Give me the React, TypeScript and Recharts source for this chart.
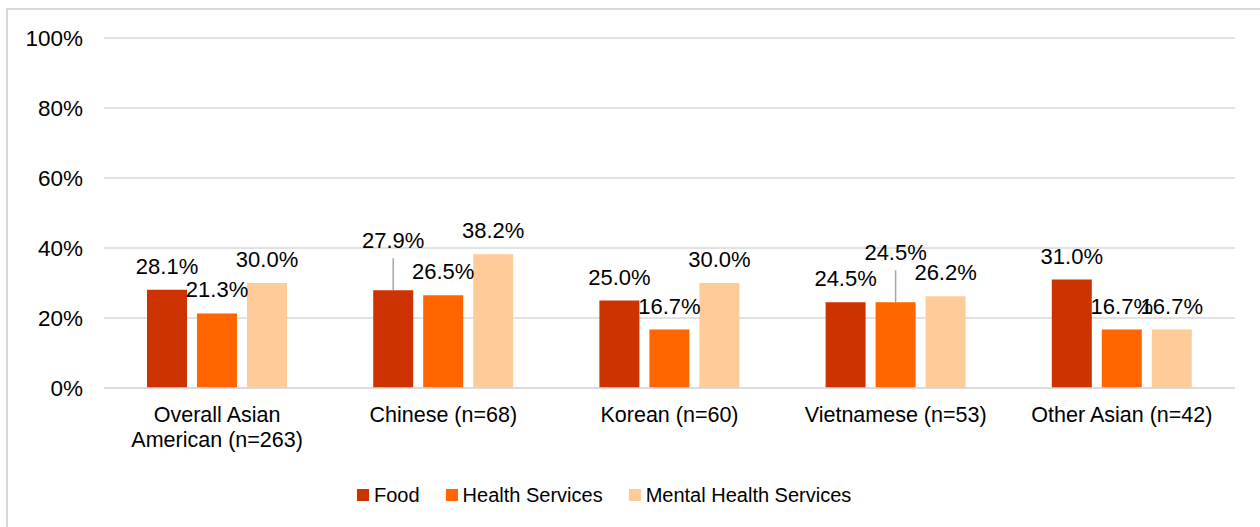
import { Bar, BarChart, CartesianGrid, LabelList, Legend, XAxis, YAxis } from "recharts"

const FONT = '"Liberation Sans", Arial, sans-serif'
const FOOD = "#cc3300"
const HEALTH = "#ff6600"
const MENTAL = "#ffcc99"
const GRID = "#d9d9d9"
const LEADER = "#a6a6a6"
const INK = "#000"

const groups = [
  "Overall Asian American (n=263)",
  "Chinese (n=68)",
  "Korean (n=60)",
  "Vietnamese (n=53)",
  "Other Asian (n=42)",
]
const food = [28.1, 27.9, 25.0, 24.5, 31.0]
const health = [21.3, 26.5, 16.7, 24.5, 16.7]
const mental = [30.0, 38.2, 30.0, 26.2, 16.7]
const yTicks = [0, 20, 40, 60, 80, 100]

const series = [
  { key: "food", name: "Food", color: FOOD },
  { key: "health", name: "Health Services", color: HEALTH },
  { key: "mental", name: "Mental Health Services", color: MENTAL },
]

const data = groups.map((g, i) => ({ group: g, food: food[i], health: health[i], mental: mental[i] }))

// labels that were pulled up with a leader line (series-groupIndex -> px)
const lifted: Record<string, number> = { "food-1": 26, "health-3": 26 }

function makeLabel(key: string) {
  return (p: any) => {
    const x = Number(p.x) + Number(p.width) / 2
    const top = Number(p.y)
    const lift = lifted[`${key}-${p.index}`] ?? 0
    const base = top - 16 - lift
    return (
      <g>
        {lift > 0 && <line x1={x} x2={x} y1={base + 10} y2={top} stroke={LEADER} strokeWidth={1.5} />}
        <text x={x} y={base} textAnchor="middle" fontSize={22} fontFamily={FONT} fill={INK}>
          {Number(p.value).toFixed(1)}%
        </text>
      </g>
    )
  }
}

// greedy word wrap, ~18 chars a line
function wrap(s: string, max = 18) {
  const lines: string[] = []
  let cur = ""
  for (const w of s.split(" ")) {
    if (cur && (cur + " " + w).length > max) {
      lines.push(cur)
      cur = w
    } else cur = cur ? cur + " " + w : w
  }
  if (cur) lines.push(cur)
  return lines
}

function GroupTick(p: any) {
  const lines = wrap(String(p.payload.value))
  return (
    <text x={p.x} y={p.y + 26} textAnchor="middle" fontSize={21.5} fontFamily={FONT} fill={INK}>
      {lines.map((l, i) => (
        <tspan key={i} x={p.x} dy={i === 0 ? 0 : 25}>
          {l}
        </tspan>
      ))}
    </text>
  )
}

function LegendRow() {
  return (
    <div
      style={{
        display: "flex",
        alignItems: "center",
        paddingLeft: 357,
        fontFamily: FONT,
        fontSize: 20,
        lineHeight: "24px",
        color: INK,
      }}
    >
      {series.map((s) => (
        <div key={s.key} style={{ display: "flex", alignItems: "center", marginRight: 26 }}>
          <span style={{ display: "inline-block", width: 12, height: 12, background: s.color, marginRight: 5 }} />
          <span>{s.name}</span>
        </div>
      ))}
    </div>
  )
}

export default function App() {
  return (
    <div style={{ position: "absolute", left: 0, top: 0, width: 1260, height: 527, background: "#fff", overflow: "hidden" }}>
      <div
        style={{
          position: "absolute",
          left: 6,
          top: 8,
          width: 1400,
          height: 700,
          borderTop: `2px solid ${GRID}`,
          borderLeft: `2px solid ${GRID}`,
        }}
      />
      <div style={{ position: "absolute", left: 0, top: 0 }}>
        <BarChart
          width={1260}
          height={527}
          data={data}
          margin={{ top: 38, right: 25, left: 20, bottom: 79 }}
          barSize={40}
          barGap={10}
        >
          <CartesianGrid vertical={false} stroke={GRID} strokeWidth={1.5} />
          <XAxis
            dataKey="group"
            height={60}
            interval={0}
            tickLine={false}
            axisLine={{ stroke: GRID, strokeWidth: 1.5 }}
            tick={<GroupTick />}
          />
          <YAxis
            width={84}
            domain={[0, 100]}
            ticks={yTicks}
            tickFormatter={(v: number) => `${v}%`}
            axisLine={false}
            tickLine={false}
            tickMargin={15}
            tick={{ fontSize: 22.5, fontFamily: FONT, fill: INK }}
          />
          <Legend
            layout="horizontal"
            verticalAlign="middle"
            align="center"
            wrapperStyle={{ top: 483, left: 0, width: 1260 }}
            content={() => <LegendRow />}
          />
          {series.map((s) => (
            <Bar key={s.key} dataKey={s.key} name={s.name} fill={s.color} isAnimationActive={false}>
              <LabelList dataKey={s.key} content={makeLabel(s.key)} />
            </Bar>
          ))}
        </BarChart>
      </div>
    </div>
  )
}
